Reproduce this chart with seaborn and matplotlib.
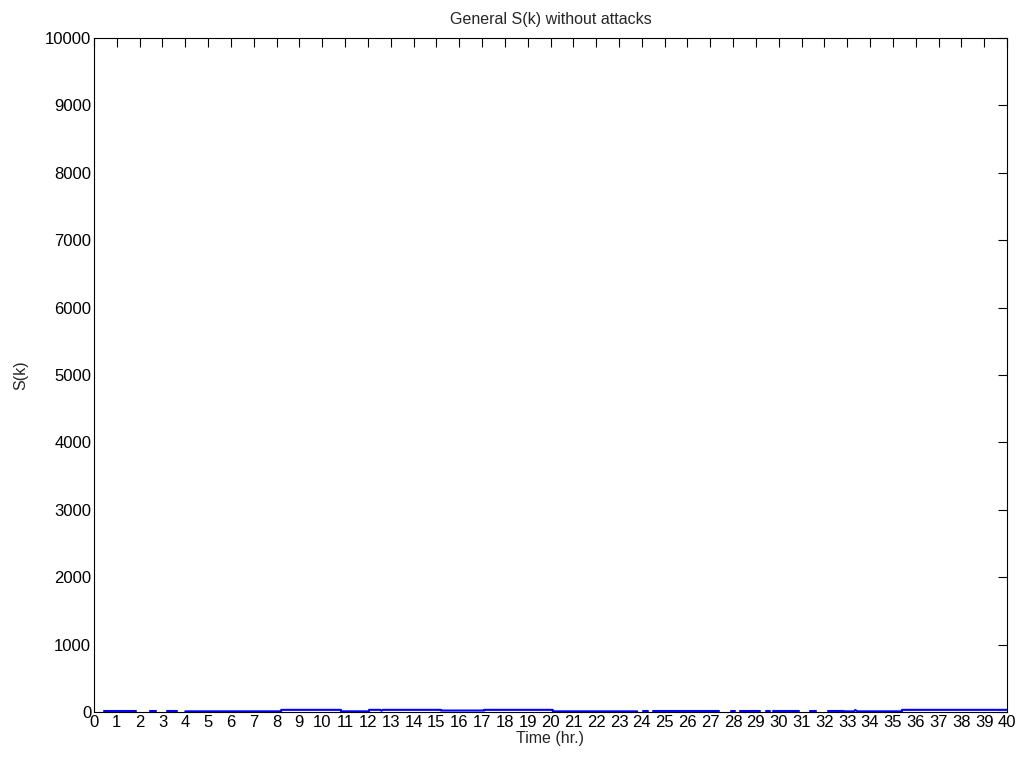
import numpy as np
import pandas as pd
import matplotlib
matplotlib.use("Agg")
import matplotlib.pyplot as plt
import seaborn as sns

# S(k) series over time (hours); NaN separates runs where no value was recorded
time_hr = [0.44, 1.84, np.nan,
           2.45, 2.70, np.nan,
           3.18, 3.62, np.nan,
           4.00, 8.20, 8.20, 10.82, 10.82, 12.05, 12.05, 12.55, 12.60, 12.65,
           15.20, 15.20, 17.10, 17.10, 20.10, 20.10, 23.80, np.nan,
           24.05, 24.25, np.nan,
           24.50, 27.40, np.nan,
           27.90, 28.10, np.nan,
           28.30, 29.20, np.nan,
           29.45, 29.60, np.nan,
           29.75, 30.90, np.nan,
           31.35, 31.65, np.nan,
           32.15, 32.85, np.nan,
           32.90, 33.30, 33.35, 33.45, 35.40, 35.40, 40.00]
s_k = [10, 10, np.nan,
       10, 10, np.nan,
       10, 10, np.nan,
       10, 10, 32, 32, 10, 10, 32, 32, 18, 32,
       32, 22, 22, 32, 32, 10, 10, np.nan,
       10, 10, np.nan,
       10, 10, np.nan,
       10, 10, np.nan,
       10, 10, np.nan,
       10, 10, np.nan,
       10, 10, np.nan,
       10, 10, np.nan,
       10, 10, np.nan,
       10, 10, 30, 10, 10, 32, 32]

x_ticks = list(range(0, 41))
y_ticks = list(range(0, 10001, 1000))

# split into separate runs so gaps stay open
run_id, rid = [], 0
for t in time_hr:
    if np.isnan(t):
        rid += 1
    run_id.append(rid)
df = pd.DataFrame({"time": time_hr, "S": s_k, "run": run_id}).dropna()

sns.set_style("white")
plt.rcParams["font.family"] = ["Liberation Sans", "DejaVu Sans"]

fig = plt.figure(figsize=(10.27, 7.67), dpi=100)
ax = fig.add_axes([94 / 1027, 1 - 712 / 767, (1007 - 94) / 1027, (712 - 38) / 767])

sns.lineplot(data=df, x="time", y="S", units="run", estimator=None, sort=False,
             color="#0000ff", linewidth=1.5, ax=ax, legend=False)

ax.set_xlim(0, 40)
ax.set_ylim(0, 10000)
ax.set_xticks(x_ticks)
ax.set_xticklabels([str(v) for v in x_ticks])
ax.set_yticks(y_ticks)
ax.set_yticklabels([str(v) for v in y_ticks])
ax.tick_params(direction="in", top=True, right=True, length=6.5, width=0.8,
               labelsize=12, pad=2, colors="black")
for sp in ax.spines.values():
    sp.set_visible(True)
    sp.set_color("black")
    sp.set_linewidth(0.8)

ax.set_title("General S(k) without attacks", fontsize=11.5, pad=10)
ax.set_xlabel("Time (hr.)", fontsize=11.5, labelpad=1)
ax.set_ylabel("S(k)", fontsize=11.5, labelpad=12)

fig.savefig("out.png", dpi=100, facecolor="white")
